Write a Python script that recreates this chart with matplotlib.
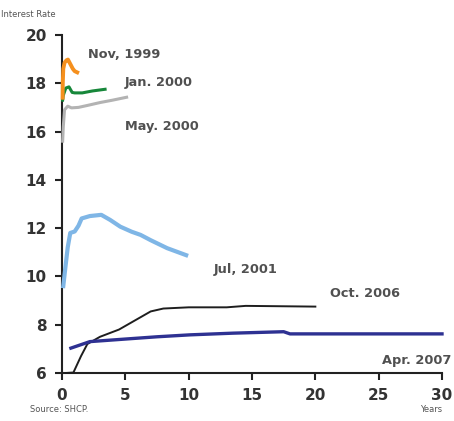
import matplotlib.pyplot as plt

# yield curves (maturity in years, interest rate %)
nov99_x = [0.05, 0.06, 0.1, 0.2, 0.35, 0.47, 0.65, 0.85, 1.0, 1.2]
nov99_y = [17.4, 18.0, 18.6, 18.85, 18.95, 18.98, 18.8, 18.6, 18.5, 18.45]

jan00_x = [0.05, 0.1, 0.3, 0.55, 0.8, 1.0, 1.6, 2.4, 3.4]
jan00_y = [17.3, 17.5, 17.8, 17.85, 17.62, 17.6, 17.6, 17.68, 17.75]

may00_x = [0.05, 0.1, 0.2, 0.45, 0.75, 1.3, 2.0, 3.0, 4.0, 5.1]
may00_y = [15.6, 16.2, 16.9, 17.05, 16.98, 17.0, 17.08, 17.2, 17.3, 17.42]

jul01_x = [0.1, 0.25, 0.45, 0.65, 1.0, 1.3, 1.55, 2.2, 3.1, 3.8, 4.6, 5.5, 6.2, 7.0, 8.3, 9.8]
jul01_y = [9.6, 10.3, 11.2, 11.8, 11.86, 12.1, 12.4, 12.5, 12.55, 12.34, 12.06, 11.85, 11.72, 11.5, 11.17, 10.88]

oct06_x = [0.3, 0.9, 1.5, 2.0, 3.0, 4.5, 5.5, 7.0, 8.0, 10.0, 13.0, 14.5, 20.0]
oct06_y = [6.0, 6.02, 6.7, 7.2, 7.5, 7.8, 8.1, 8.55, 8.67, 8.72, 8.72, 8.78, 8.75]

apr07_x = [0.7, 2.2, 5.1, 7.5, 10.1, 13.5, 17.5, 18.0, 30.0]
apr07_y = [7.03, 7.3, 7.41, 7.5, 7.58, 7.65, 7.71, 7.62, 7.62]

fig = plt.figure(figsize=(4.54, 4.21), dpi=100)
ax = fig.add_axes([0.1366, 0.114, 0.837, 0.803])

line = dict(clip_on=False, zorder=3)
ax.plot(jul01_x, jul01_y, color='#7fb6e6', lw=3.0, **line)
ax.plot(oct06_x, oct06_y, color='#1e1e1e', lw=1.4, **line)
ax.plot(apr07_x, apr07_y, color='#2e3192', lw=2.4, **line)
ax.plot(may00_x, may00_y, color='#b3b3b3', lw=2.2, **line)
ax.plot(jan00_x, jan00_y, color='#17873a', lw=2.2, **line)
ax.plot(nov99_x, nov99_y, color='#f5901e', lw=2.8, **line)

lab = dict(fontsize=9.3, fontweight='bold', color='#505050', va='center', ha='left')
ax.text(2.05, 19.17, 'Nov, 1999', **lab)
ax.text(4.97, 18.05, 'Jan. 2000', **lab)
ax.text(4.97, 16.2, 'May. 2000', **lab)
ax.text(12.0, 10.27, 'Jul, 2001', **lab)
ax.text(21.15, 9.3, 'Oct. 2006', **lab)
ax.text(25.3, 6.5, 'Apr. 2007', **lab)

ax.set_xlim(0, 30)
ax.set_ylim(6, 20)
ax.set_xticks([0, 5, 10, 15, 20, 25, 30])
ax.set_yticks([6, 8, 10, 12, 14, 16, 18, 20])
ax.tick_params(length=5, width=1.5, colors='#222222', labelsize=11, pad=6)
for t in ax.get_xticklabels() + ax.get_yticklabels():
    t.set_fontweight('heavy')
    t.set_color('#333333')
for s in ['top', 'right']:
    ax.spines[s].set_visible(False)
for s in ['left', 'bottom']:
    ax.spines[s].set_linewidth(1.5)
    ax.spines[s].set_color('#222222')

fig.text(0.002, 0.96, 'Interest Rate', fontsize=6, color='#555555')
fig.text(0.065, 0.022, 'Source: SHCP.', fontsize=6, color='#555555')
fig.text(0.925, 0.022, 'Years', fontsize=6, color='#555555')

fig.savefig('out.png')
